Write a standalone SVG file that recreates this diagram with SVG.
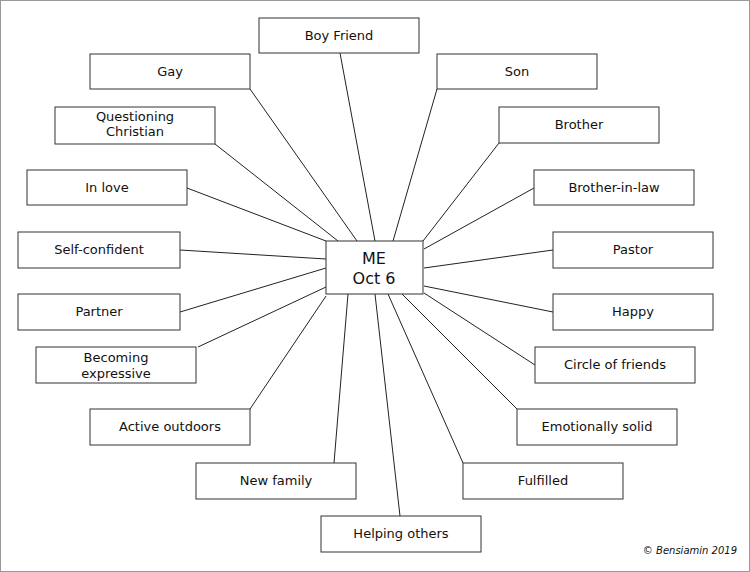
<svg xmlns="http://www.w3.org/2000/svg" width="750" height="572" viewBox="0 0 750 572">
<style>
rect{fill:#fff;stroke:#333;stroke-width:1}
text{font-family:"DejaVu Sans",sans-serif;font-size:13px;text-anchor:middle;fill:#111}
#connectors line{stroke:#222;stroke-width:1}
</style>
<rect x="0.5" y="0.5" width="749" height="571" style="stroke:#999"/>
<g id="connectors">
<line x1="375" y1="241" x2="340" y2="53"/>
<line x1="357" y1="241" x2="250" y2="89"/>
<line x1="393" y1="241" x2="437" y2="89"/>
<line x1="338" y1="241" x2="215" y2="144"/>
<line x1="423" y1="241" x2="499" y2="143"/>
<line x1="326" y1="241" x2="187" y2="188"/>
<line x1="424" y1="249" x2="534" y2="188"/>
<line x1="326" y1="259" x2="180" y2="250"/>
<line x1="424" y1="268" x2="553" y2="250"/>
<line x1="326" y1="268" x2="180" y2="312"/>
<line x1="424" y1="286" x2="553" y2="312"/>
<line x1="326" y1="287" x2="198" y2="347"/>
<line x1="424" y1="293" x2="535" y2="365"/>
<line x1="326" y1="296" x2="250" y2="409"/>
<line x1="402" y1="294" x2="517" y2="409"/>
<line x1="348" y1="294" x2="334" y2="463"/>
<line x1="388" y1="294" x2="463" y2="463"/>
<line x1="375" y1="294" x2="400" y2="516"/>
</g>
<g id="me"><rect x="326" y="241" width="97" height="53"/><text x="374" y="264" style="font-size:16px">ME</text><text x="374" y="284" style="font-size:16px">Oct 6</text></g>
<g id="boyfriend"><rect x="259" y="18" width="160" height="35"/><text x="339" y="40">Boy Friend</text></g>
<g id="gay"><rect x="90" y="54" width="160" height="35"/><text x="170" y="76">Gay</text></g>
<g id="son"><rect x="437" y="54" width="160" height="35"/><text x="517" y="76">Son</text></g>
<g id="questioning"><rect x="55" y="107" width="160" height="37"/><text x="135" y="121">Questioning</text><text x="135" y="136">Christian</text></g>
<g id="brother"><rect x="499" y="107" width="160" height="36"/><text x="579" y="129">Brother</text></g>
<g id="inlove"><rect x="27" y="170" width="160" height="35"/><text x="107" y="192">In love</text></g>
<g id="brotherinlaw"><rect x="534" y="170" width="160" height="35"/><text x="614" y="192">Brother-in-law</text></g>
<g id="selfconfident"><rect x="18" y="232" width="162" height="36"/><text x="99" y="254">Self-confident</text></g>
<g id="pastor"><rect x="553" y="232" width="160" height="36"/><text x="633" y="254">Pastor</text></g>
<g id="partner"><rect x="18" y="294" width="162" height="36"/><text x="99" y="316">Partner</text></g>
<g id="happy"><rect x="553" y="294" width="160" height="36"/><text x="633" y="316">Happy</text></g>
<g id="becoming"><rect x="36" y="347" width="160" height="36"/><text x="116" y="362">Becoming</text><text x="116" y="378">expressive</text></g>
<g id="circle"><rect x="535" y="347" width="160" height="36"/><text x="615" y="369">Circle of friends</text></g>
<g id="active"><rect x="90" y="409" width="160" height="36"/><text x="170" y="431">Active outdoors</text></g>
<g id="emotionally"><rect x="517" y="409" width="160" height="36"/><text x="597" y="431">Emotionally solid</text></g>
<g id="newfamily"><rect x="196" y="463" width="160" height="36"/><text x="276" y="485">New family</text></g>
<g id="fulfilled"><rect x="463" y="463" width="160" height="36"/><text x="543" y="485">Fulfilled</text></g>
<g id="helping"><rect x="321" y="516" width="160" height="36"/><text x="401" y="538">Helping others</text></g>
<text x="737" y="554" style="font-size:10px;font-style:italic;text-anchor:end">© Bensiamin 2019</text>
</svg>
